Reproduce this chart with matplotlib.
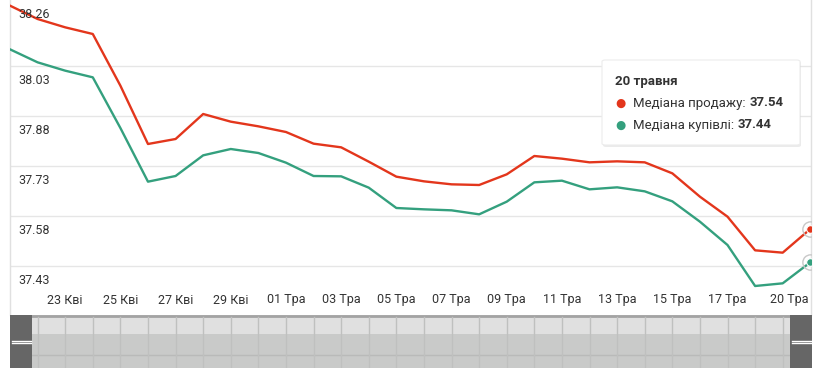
import matplotlib
matplotlib.use("Agg")
from matplotlib import pyplot as plt
from matplotlib.patches import FancyBboxPatch, Rectangle
from matplotlib.transforms import blended_transform_factory
import numpy as np

# data: 21 Apr .. 20 May, one point per day
dates = ['21 Кві', '22 Кві', '23 Кві', '24 Кві', '25 Кві', '26 Кві', '27 Кві', '28 Кві',
         '29 Кві', '30 Кві', '01 Тра', '02 Тра', '03 Тра', '04 Тра', '05 Тра', '06 Тра',
         '07 Тра', '08 Тра', '09 Тра', '10 Тра', '11 Тра', '12 Тра', '13 Тра', '14 Тра',
         '15 Тра', '16 Тра', '17 Тра', '18 Тра', '19 Тра', '20 Тра']
sell = [38.21, 38.17, 38.145, 38.125, 37.97, 37.795, 37.81, 37.885, 37.862, 37.848,
        37.831, 37.796, 37.785, 37.742, 37.697, 37.683, 37.674, 37.672, 37.704, 37.759,
        37.751, 37.740, 37.743, 37.740, 37.707, 37.637, 37.577, 37.476, 37.469, 37.54]
buy = [38.079, 38.040, 38.015, 37.995, 37.843, 37.682, 37.699, 37.761, 37.780, 37.768,
       37.739, 37.699, 37.698, 37.664, 37.603, 37.599, 37.596, 37.584, 37.622, 37.680,
       37.685, 37.659, 37.665, 37.653, 37.623, 37.562, 37.492, 37.369, 37.377, 37.44]
grid_vals = [37.43, 37.58, 37.73, 37.88, 38.03]
ytick_labels = ['37.43', '37.58', '37.73', '37.88', '38.03']
top_label = '38.26'
xtick_idx = [2, 4, 6, 8, 10, 12, 14, 16, 18, 20, 22, 24, 26]
tooltip_title = '20 травня'
sell_name = 'Медіана продажу:'
buy_name = 'Медіана купівлі:'

RED = '#e3361c'
GREEN = '#34a07e'
TXT = '#333333'

plt.rcParams['font.family'] = ['Roboto', 'DejaVu Sans']

W, H = 818, 378
fig = plt.figure(figsize=(W / 100, H / 100), dpi=100)

def box(x0, y0, x1, y1):
    # pixel box (top-left origin) -> figure fraction
    return [x0 / W, (H - y1) / H, (x1 - x0) / W, (y1 - y0) / H]

# main plot
ax = fig.add_axes(box(10, 0, 811.4, 315))
x = np.arange(len(dates))
ax.set_xlim(0, 29.04)
ax.set_ylim(37.282, 38.227)
for v in grid_vals:
    ax.axhline(v, color='#e6e6e6', lw=1, zorder=0)
ax.plot(x, sell, color=RED, lw=1.7, zorder=3, solid_joinstyle='round')
ax.plot(x, buy, color=GREEN, lw=1.7, zorder=3, solid_joinstyle='round')

# hover markers at last point
for s, c in [(sell, RED), (buy, GREEN)]:
    ax.plot(x[-1], s[-1], 'o', ms=11, mfc='none', mec='#c8c8c8', mew=1, zorder=4)
    ax.plot(x[-1], s[-1], 'o', ms=5.5, mfc=c, mec='white', mew=0.8, zorder=5)

ax.set_xticks([])
ax.set_yticks([])
for side in ['top', 'bottom']:
    ax.spines[side].set_visible(False)
for side in ['left', 'right']:
    ax.spines[side].set_color('#e0e0e0')
    ax.spines[side].set_linewidth(1)

for v, lab in zip(grid_vals, ytick_labels):
    ax.annotate(lab, xy=(0, v), xycoords=('axes fraction', 'data'),
                xytext=(8, -14.5), textcoords='offset pixels',
                ha='left', va='center', fontsize=9, color=TXT)
ax.annotate(top_label, xy=(0, 1), xycoords='axes fraction',
            xytext=(8, -15), textcoords='offset pixels',
            ha='left', va='center', fontsize=9, color=TXT)

trans = blended_transform_factory(ax.transData, ax.transAxes)
ylab = 15 / 315
for i in xtick_idx:
    ax.text(i, ylab, dates[i], transform=trans, ha='center', va='center',
            fontsize=9, color=TXT)
ax.annotate(dates[-1], xy=(1, ylab), xycoords='axes fraction', xytext=(-3, 0),
            textcoords='offset pixels', ha='right', va='center', fontsize=9, color=TXT)

# navigator
nav = fig.add_axes(box(10, 315, 812, 368))
nav.set_xlim(0, 802)
nav.set_ylim(53, 0)
nav.axis('off')
nav.add_patch(Rectangle((0, 0), 802, 19, color='#e0e0e0', lw=0))
nav.add_patch(Rectangle((0, 19), 802, 34, color='#c9cac9', lw=0))
nav.axhline(39.5, color='#b9bab9', lw=1)
nav.axhline(0.8, color='#a3a3a3', lw=2)
for i in range(1, len(dates) - 1):
    nav.axvline(i * 27.6, ymin=0, ymax=0.97, color='#bfc0bf', lw=1)
for hx in [0, 780]:
    nav.add_patch(Rectangle((hx, 0), 22, 53, color='#666666', lw=0, zorder=5))
    nav.plot([hx + 1.5, hx + 20.5], [25.5, 25.5], color='white', lw=1, zorder=6)
    nav.plot([hx + 1.5, hx + 20.5], [28, 28], color='white', lw=1, zorder=6)

# tooltip
shadow = FancyBboxPatch((603 / W, (H - 147) / H), 198 / W, 86 / H,
                        boxstyle='round,pad=0,rounding_size=0.004',
                        transform=fig.transFigure, fc='#000000', ec='none', alpha=0.08, zorder=9)
fig.add_artist(shadow)
tip = FancyBboxPatch((602 / W, (H - 145) / H), 198 / W, 85 / H,
                     boxstyle='round,pad=0,rounding_size=0.004',
                     transform=fig.transFigure, fc='white', ec='#ececec', lw=0.8, zorder=10)
fig.add_artist(tip)

def fpos(px, py):
    return px / W, (H - py) / H

fig.text(*fpos(615, 81), tooltip_title, fontsize=9.5, fontweight='bold', color=TXT,
         ha='left', va='center', zorder=11)
for py, c, name, val in [(103, RED, sell_name, sell[-1]), (125, GREEN, buy_name, buy[-1])]:
    fig.text(*fpos(620, py), '●', fontsize=8.5, color=c, ha='center', va='center',
             zorder=11, family='DejaVu Sans')
    t = fig.text(*fpos(633, py), name, fontsize=9.5, color=TXT, ha='left', va='center', zorder=11)
    fig.add_artist(plt.Annotation('%.2f' % val, xy=(1, 0.5), xycoords=t,
                                  xytext=(4, 0), textcoords='offset pixels',
                                  fontsize=9.5, fontweight='bold', color=TXT,
                                  ha='left', va='center', zorder=11))

fig.savefig('out.png', dpi=100)
